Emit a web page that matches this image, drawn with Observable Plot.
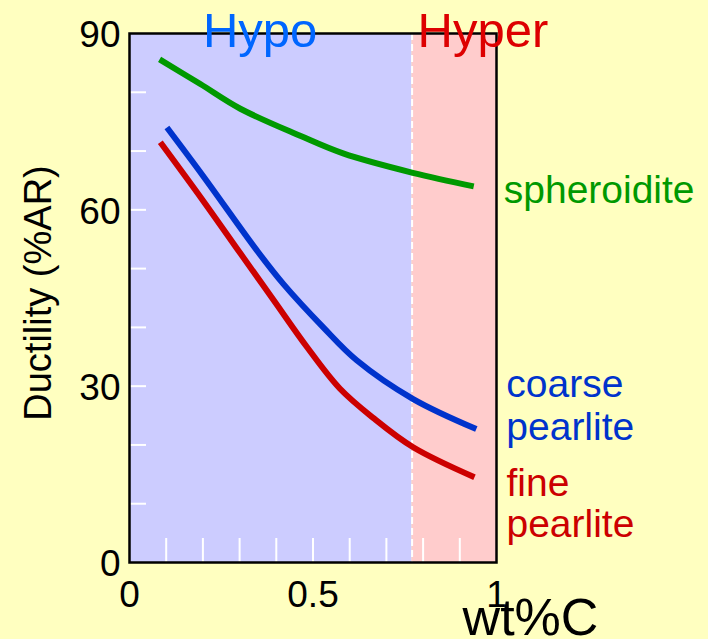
<!DOCTYPE html>
<html>
<head>
<meta charset="utf-8">
<script src="https://cdn.jsdelivr.net/npm/d3@7"></script>
<script src="https://cdn.jsdelivr.net/npm/@observablehq/plot@0.6"></script>
<style>
  html, body { margin: 0; padding: 0; background: #FFFFC0; }
  #chart svg { display: block; background: transparent; }
</style>
</head>
<body>
<div id="chart"></div>
<script>
// ---- data ----
const regionNames = ["Hypo", "Hyper"];
const regionStart = [0, 0.77];
const regionEnd = [0.77, 1];
const eutectoidC = [0.77];

const spheroiditeC = [0.082, 0.193, 0.302, 0.465, 0.582, 0.772, 0.938];
const spheroiditeAR = [85.6, 81.4, 77.2, 72.6, 69.6, 66.3, 64.0];

const coarseC = [0.102, 0.2, 0.347, 0.419, 0.528, 0.619, 0.773, 0.945];
const coarseAR = [74.0, 65.8, 53.1, 47.4, 40.0, 34.4, 27.8, 22.7];

const fineC = [0.084, 0.2, 0.302, 0.392, 0.483, 0.573, 0.664, 0.773, 0.94];
const fineAR = [71.5, 61.6, 52.6, 44.7, 36.7, 29.6, 24.6, 19.6, 14.5];

const xTickLabels = [0, 0.5, 1];
const yTickLabels = [0, 30, 60, 90];
const xMinorTicks = [0.1, 0.2, 0.3, 0.4, 0.5, 0.6, 0.7, 0.8, 0.9];
const yMinorTicks = [10, 20, 30, 40, 50, 60, 70, 80];

const seriesLabels = ["spheroidite", "coarse\npearlite", "fine\npearlite"];

// ---- build tables ----
const regions = regionNames.map((name, i) => ({name, x1: regionStart[i], x2: regionEnd[i]}));
const mk = (name, xs, ys) => xs.map((c, i) => ({series: name, c, ar: ys[i]}));
const sph = mk("spheroidite", spheroiditeC, spheroiditeAR);
const coarse = mk("coarse", coarseC, coarseAR);
const fine = mk("fine", fineC, fineAR);

const FONT = "Liberation Sans, Arial, sans-serif";
const green = "#009900", blue = "#0033CC", red = "#CC0000";

const chart = Plot.plot({
  width: 708,
  height: 639,
  marginLeft: 129,
  marginRight: 212,
  marginTop: 33,
  marginBottom: 77,
  style: {background: "transparent", fontFamily: FONT, overflow: "visible"},
  x: {domain: [0, 1], axis: null, label: null},
  y: {domain: [0, 90], axis: null, label: null},
  marks: [
    Plot.rectY(regions, {x1: "x1", x2: "x2", y1: 0, y2: 90, fill: (d) => d.name === "Hypo" ? "#CCCCFF" : "#FFCCCC"}),
    Plot.ruleX(eutectoidC, {stroke: "white", strokeWidth: 2, strokeDasharray: "7,4"}),
    Plot.tickY(yMinorTicks, {y: (d) => d, stroke: "white", strokeWidth: 2, insetRight: 350}),
    Plot.tickX(xMinorTicks, {x: (d) => d, stroke: "white", strokeWidth: 2, insetTop: 505}),
    Plot.line(sph, {x: "c", y: "ar", stroke: green, strokeWidth: 6, curve: "catmull-rom", strokeLinecap: "butt"}),
    Plot.line(coarse, {x: "c", y: "ar", stroke: blue, strokeWidth: 6, curve: "catmull-rom", strokeLinecap: "butt"}),
    Plot.line(fine, {x: "c", y: "ar", stroke: red, strokeWidth: 6, curve: "catmull-rom", strokeLinecap: "butt"}),
    Plot.frame({stroke: "black", strokeWidth: 2.5}),
    // axes
    Plot.axisX(xTickLabels, {anchor: "bottom", label: null, tickSize: 0, tickPadding: 18, fontSize: 37, fill: "black", tickFormat: (d) => String(d)}),
    Plot.axisY(yTickLabels, {anchor: "left", label: null, tickSize: 0, tickPadding: 9, fontSize: 37, fill: "black", dy: 2, tickFormat: (d) => String(d)}),
    // axis titles
    Plot.text(["wt%C"], {frameAnchor: "bottom-right", lineAnchor: "middle", text: (d) => d, fontSize: 52, fill: "black", textAnchor: "middle", dx: 34, dy: 56}),
    Plot.text(["Ductility (%AR)"], {frameAnchor: "left", lineAnchor: "middle", text: (d) => d, fontSize: 38, fill: "black", rotate: -90, textAnchor: "middle", dx: -91, dy: -5}),
    // region labels
    Plot.text([regionNames[0]], {x: [0.356], frameAnchor: "top", lineAnchor: "middle", text: (d) => d, fontSize: 49, fill: "#0066FF", textAnchor: "middle", dy: -2}),
    Plot.text([regionNames[1]], {x: [0.785], frameAnchor: "top", lineAnchor: "middle", text: (d) => d, fontSize: 49, fill: "#DD0000", textAnchor: "start", dy: -2}),
    // series labels
    Plot.text([sph[sph.length - 1]], {x: "c", y: "ar", text: () => seriesLabels[0], fill: green, fontSize: 39, textAnchor: "start", dx: 30, dy: 4}),
    Plot.text([coarse[coarse.length - 1]], {x: "c", y: "ar", text: () => seriesLabels[1], fill: blue, fontSize: 39, lineHeight: 1.08, textAnchor: "start", dx: 30, dy: -24}),
    Plot.text([fine[fine.length - 1]], {x: "c", y: "ar", text: () => seriesLabels[2], fill: red, fontSize: 39, lineHeight: 1.05, textAnchor: "start", dx: 32, dy: 26})
  ]
});
document.getElementById("chart").appendChild(chart);
</script>
</body>
</html>
